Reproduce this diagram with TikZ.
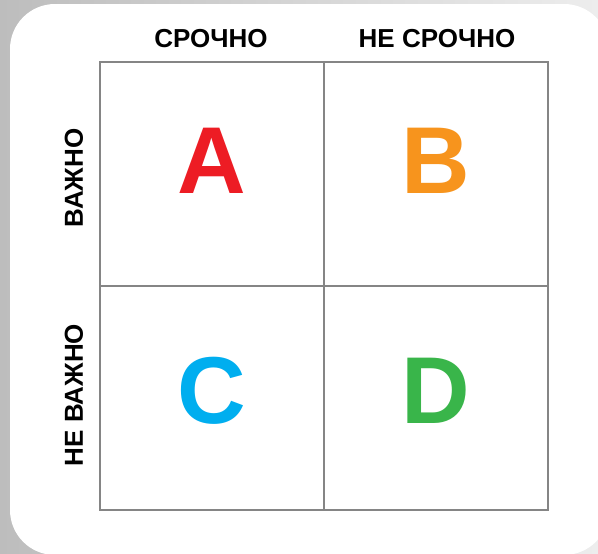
\documentclass[tikz,border=0pt]{standalone}
\usepackage{fontspec}
\setmainfont{Liberation Sans}
\definecolor{cA}{HTML}{ED1C24}
\definecolor{cB}{HTML}{F7941D}
\definecolor{cC}{HTML}{00AEEF}
\definecolor{cD}{HTML}{39B54A}
\definecolor{bgL}{HTML}{BDBDBD}
\definecolor{bgR}{HTML}{EDEDED}
\definecolor{gridc}{HTML}{858585}
\begin{document}
\begin{tikzpicture}[x=1pt,y=-1pt,
  cell/.style={draw=gridc, line width=2.2pt, minimum size=224pt, inner sep=0pt, outer sep=0pt},
  hdr/.style={font=\bfseries\fontsize{26}{26}\selectfont, inner sep=0pt, text=black},
  big/.style={font=\bfseries\fontsize{95}{95}\selectfont, inner sep=0pt}]
\useasboundingbox (0,0) rectangle (598,554);
\clip (0,0) rectangle (598,554);
\shade[left color=bgL, right color=bgR] (0,0) rectangle (598,554);
\fill[white, rounded corners=45pt] (10,4) rectangle (609,555);
\node[cell] (ca) at (212,174) {};
\node[cell] (cb) at (436,174) {};
\node[cell] (cc) at (212,398) {};
\node[cell] (cd) at (436,398) {};
\node[hdr] (h1) at (211,39) {СРОЧНО};
\node[hdr] (h2) at (437,39) {НЕ СРОЧНО};
\node[hdr, rotate=90] (s1) at (74,178) {ВАЖНО};
\node[hdr, rotate=90] (s2) at (74,395) {НЕ ВАЖНО};
\node[big, text=cA, yshift=13pt] (la) at (ca) {A};
\node[big, text=cB, yshift=13pt] (lb) at (cb) {B};
\node[big, text=cC, yshift=7pt] (lc) at (cc) {C};
\node[big, text=cD, yshift=7pt] (ld) at (cd) {D};
\end{tikzpicture}
\end{document}
